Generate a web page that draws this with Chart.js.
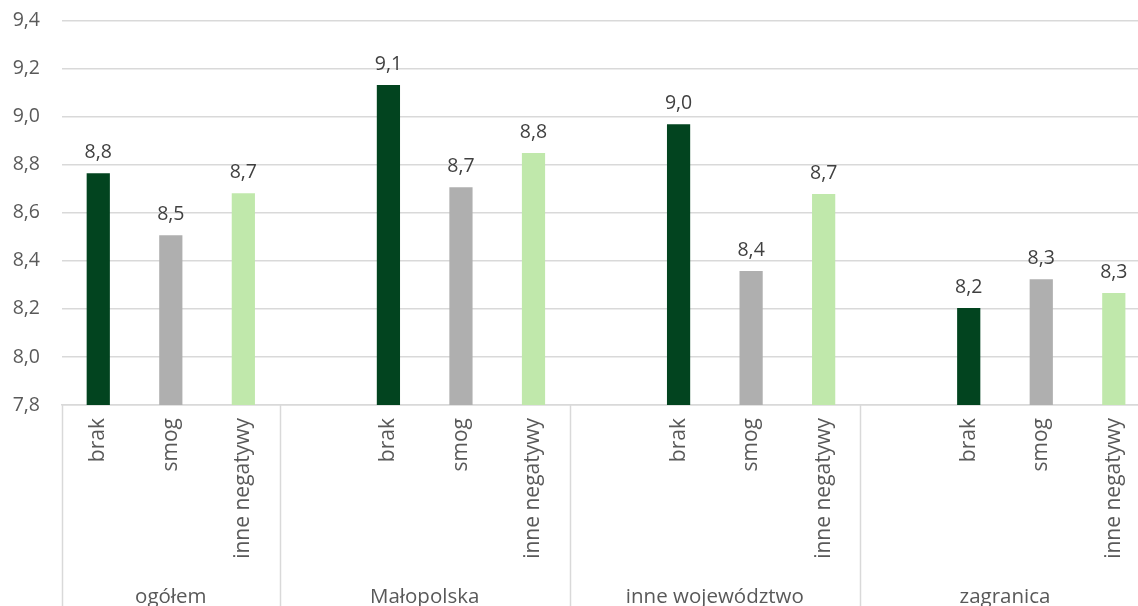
<!DOCTYPE html>
<html>
<head>
<meta charset="utf-8">
<script src="https://cdn.jsdelivr.net/npm/chart.js@4"></script>
<style>
  html, body { margin: 0; padding: 0; background: #fff; overflow: hidden; }
</style>
</head>
<body>
<canvas id="chart" width="1152" height="606"></canvas>
<script>
// categories inside each region, '' leaves an empty gap slot
const categories = ['brak', 'smog', 'inne negatywy', '',
  'brak', 'smog', 'inne negatywy', '',
  'brak', 'smog', 'inne negatywy', '',
  'brak', 'smog', 'inne negatywy']
// values per slot, null for the gaps
const values = [8.765, 8.507, 8.682, null,
  9.132, 8.707, 8.849, null,
  8.969, 8.358, 8.678, null,
  8.204, 8.324, 8.266]
const groups = ['ogółem', 'Małopolska', 'inne województwo', 'zagranica']
const groupRanges = [[0, 2], [3, 6], [7, 10], [11, 14]]
const yTicks = [7.8, 8.0, 8.2, 8.4, 8.6, 8.8, 9.0, 9.2, 9.4]

const colorFor = {
  'brak': '#02441f',
  'smog': '#afafaf',
  'inne negatywy': '#c0e8ab'
}
const FONT = "'Open Sans', sans-serif"
const SIZE = 19.5
const comma = (v) => v.toFixed(1).replace('.', ',')

var ctx = document.getElementById('chart')

// value labels above the bars + the second row of the category axis
const extras = {
  id: 'extras',
  afterDatasetsDraw(chart) {
    const c = chart.ctx
    const meta = chart.getDatasetMeta(0)
    c.save()
    c.font = SIZE + 'px ' + FONT
    c.fillStyle = '#404040'
    c.textAlign = 'center'
    c.textBaseline = 'bottom'
    meta.data.forEach((bar, i) => {
      if (values[i] == null) return
      c.fillText(comma(values[i]), bar.x, bar.y - 11)
    })
    c.restore()
  },
  afterDraw(chart) {
    const c = chart.ctx
    const x = chart.scales.x
    const top = chart.chartArea.bottom
    const bottom = chart.height
    const half = (x.getPixelForValue(1) - x.getPixelForValue(0)) / 2
    c.save()
    c.strokeStyle = '#d9d9d9'
    c.lineWidth = 1.5
    const edges = [x.getPixelForValue(0) - half]
    groupRanges.forEach((r) => edges.push(x.getPixelForValue(r[1]) + half))
    edges.forEach((px) => {
      c.beginPath()
      c.moveTo(Math.round(px) + 0.5, top)
      c.lineTo(Math.round(px) + 0.5, bottom)
      c.stroke()
    })
    c.font = '20.5px ' + FONT
    c.fillStyle = '#595959'
    c.textAlign = 'center'
    c.textBaseline = 'alphabetic'
    groups.forEach((g, i) => {
      const a = x.getPixelForValue(groupRanges[i][0]) - half
      const b = x.getPixelForValue(groupRanges[i][1]) + half
      c.fillText(g, (a + b) / 2, 603)
    })
    c.restore()
  }
}

new Chart(ctx, {
  type: 'bar',
  data: {
    labels: categories,
    datasets: [
      {
        data: values,
        backgroundColor: categories.map((k) => colorFor[k] || '#fff'),
        barPercentage: 0.32,
        categoryPercentage: 1
      }
    ]
  },
  options: {
    responsive: false,
    animation: false,
    layout: { padding: 0 },
    plugins: {
      legend: { display: false },
      tooltip: { enabled: false }
    },
    scales: {
      x: {
        grid: { display: false, drawTicks: false },
        border: { color: '#d9d9d9', width: 1.5 },
        ticks: {
          minRotation: 90,
          maxRotation: 90,
          autoSkip: false,
          padding: 13,
          color: '#595959',
          font: { family: FONT, size: 21 }
        },
        afterFit(scale) {
          scale.height = 201
        }
      },
      y: {
        min: 7.8,
        max: 9.4,
        afterBuildTicks(scale) {
          scale.ticks = yTicks.map((v) => ({ value: v }))
        },
        grid: {
          color: '#d9d9d9',
          lineWidth: 1.5,
          tickLength: 13,
          tickColor: 'rgba(0,0,0,0)'
        },
        border: { display: false },
        ticks: {
          padding: 9,
          color: '#595959',
          font: { family: FONT, size: SIZE },
          callback: (v) => comma(v)
        },
        afterFit(scale) {
          scale.width = 62
        }
      }
    }
  },
  plugins: [extras]
})
</script>
</body>
</html>
